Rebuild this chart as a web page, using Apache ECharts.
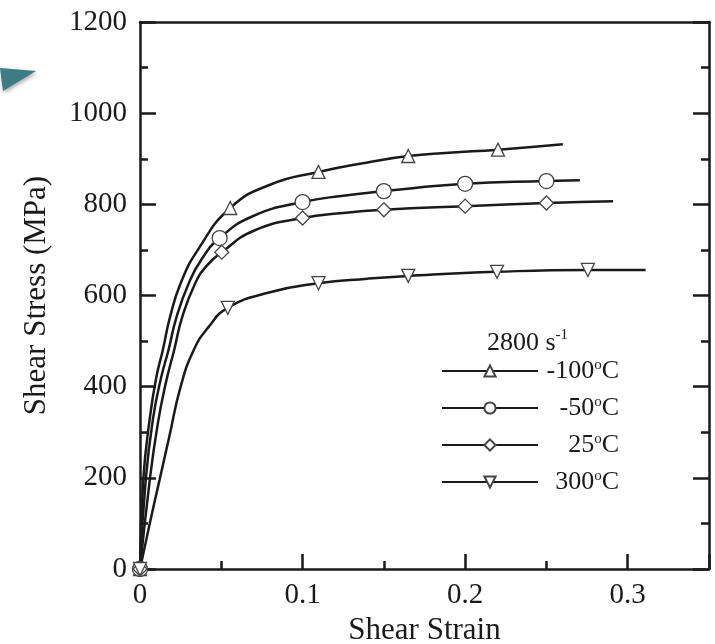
<!DOCTYPE html>
<html><head><meta charset="utf-8">
<script src="https://cdn.jsdelivr.net/npm/echarts@6/dist/echarts.min.js"></script>
<style>html,body{margin:0;padding:0;background:#fff}#c{width:715px;height:644px}</style>
</head><body><div id="c"></div>
<script>
// ---- data ----
const seriesNames = ['-100', '-50', '25', '300'];
const strainM100 = [0, 0.002, 0.006, 0.01, 0.014, 0.0185, 0.025, 0.0356, 0.0555, 0.08, 0.1098, 0.14, 0.165, 0.19, 0.2202, 0.2601];
const stressM100 = [0, 195, 330, 420, 480, 553, 627, 700, 792, 843, 871, 892, 906, 913, 920, 932];
const markM100 = [0, 0.0555, 0.1098, 0.165, 0.2202];

const strainM50 = [0, 0.0035, 0.008, 0.013, 0.0175, 0.0225, 0.030, 0.038, 0.049, 0.07, 0.1, 0.125, 0.15, 0.2, 0.25, 0.2706];
const stressM50 = [0, 195, 330, 420, 480, 553, 627, 680, 726, 775, 805, 819, 829, 845, 851, 853];
const markM50 = [0, 0.049, 0.1, 0.15, 0.2, 0.25];

const strainP25 = [0, 0.006, 0.011, 0.016, 0.021, 0.026, 0.034, 0.041, 0.0503, 0.07, 0.1, 0.125, 0.15, 0.2, 0.25, 0.291];
const stressP25 = [0, 195, 320, 410, 480, 553, 627, 665, 695, 742, 770, 781, 788, 796, 803, 807];
const markP25 = [0, 0.0503, 0.1, 0.15, 0.2, 0.25];

const strainP300 = [0, 0.006, 0.012, 0.018, 0.025, 0.033, 0.042, 0.054, 0.08, 0.1098, 0.14, 0.165, 0.2196, 0.2755, 0.311];
const stressP300 = [0, 100, 195, 290, 400, 480, 530, 573, 607, 627, 637, 643, 652, 656, 656];
const markP300 = [0, 0.054, 0.1098, 0.165, 0.2196, 0.2755];

const yTicks = [0, 200, 400, 600, 800, 1000, 1200];
const xTicks = [0, 0.1, 0.2, 0.3];

// ---- build ----
const FONT = '"Liberation Serif", "Times New Roman", serif';
const INK = '#1a1a1a';
function build(xs, ys, marks) {
  return xs.map((x, i) => {
    const d = { value: [x, ys[i]] };
    if (marks.indexOf(x) < 0) d.symbol = 'none';
    return d;
  });
}
const defs = [
  { name: seriesNames[0], xs: strainM100, ys: stressM100, mk: markM100, sym: 'triangle', rot: 0, size: 13 },
  { name: seriesNames[1], xs: strainM50, ys: stressM50, mk: markM50, sym: 'circle', rot: 0, size: 15 },
  { name: seriesNames[2], xs: strainP25, ys: stressP25, mk: markP25, sym: 'diamond', rot: 0, size: 14 },
  { name: seriesNames[3], xs: strainP300, ys: stressP300, mk: markP300, sym: 'triangle', rot: 180, size: 13 }
];
const series = defs.map(d => ({
  type: 'line', name: d.name, data: build(d.xs, d.ys, d.mk),
  smooth: 0.5,
  symbol: d.sym, symbolRotate: d.rot, symbolSize: d.size, showAllSymbol: true,
  lineStyle: { color: INK, width: 2.5 },
  itemStyle: { color: '#fff', borderColor: '#444', borderWidth: 1.3 },
  emphasis: { disabled: true }, animation: false, z: 3
}));

const chart = echarts.init(document.getElementById('c'), null, { renderer: 'canvas' });
const axisLine = { show: true, onZero: false, lineStyle: { color: INK, width: 2.5 } };
chart.setOption({
  backgroundColor: '#fff',
  animation: false,
  grid: { left: 140, right: 6, top: 22, bottom: 75, containLabel: false, outerBoundsMode: 'none' },
  title: {
    text: '{a|2800 s}{b|-1}', left: 482, top: 323,
    textStyle: { fontWeight: 'normal', rich: {
      a: { fontFamily: FONT, fontSize: 26, fontWeight: 'normal', color: INK, lineHeight: 28, verticalAlign: 'bottom' },
      b: { fontFamily: FONT, fontSize: 15, fontWeight: 'normal', color: INK, lineHeight: 28, verticalAlign: 'top' }
    } }
  },
  legend: {
    orient: 'vertical', left: 436, top: 353, itemWidth: 96, itemHeight: 14, itemGap: 11,
    data: seriesNames, selectedMode: false,
    formatter: n => '{t|' + n + '}{s|o}{t|C}',
    textStyle: { width: 76, rich: {
      t: { fontFamily: FONT, fontSize: 26, color: INK, lineHeight: 26, align: 'right', verticalAlign: 'bottom' },
      s: { fontFamily: FONT, fontSize: 15, color: INK, lineHeight: 26, align: 'right', verticalAlign: 'top' }
    } }
  },
  xAxis: [{
    type: 'value', min: 0, max: 0.35, interval: 0.1,
    name: 'Shear Strain', nameLocation: 'middle', nameGap: 44,
    nameTextStyle: { fontFamily: FONT, fontSize: 31, color: INK },
    axisLine: axisLine,
    axisTick: { show: true, inside: true, length: 15, lineStyle: { color: INK, width: 2.5 } },
    minorTick: { show: true, splitNumber: 2, length: 8, lineStyle: { color: INK, width: 2.5 } },
    splitLine: { show: false },
    axisLabel: { fontFamily: FONT, fontSize: 29, color: INK, margin: 12, showMaxLabel: false,
      formatter: v => (xTicks.indexOf(+v.toFixed(2)) >= 0 ? String(+v.toFixed(2)) : '') }
  }, {
    type: 'value', position: 'top', min: 0, max: 0.35, interval: 0.1,
    axisLine: axisLine, axisTick: { show: false }, axisLabel: { show: false }, splitLine: { show: false }
  }],
  yAxis: [{
    type: 'value', min: 0, max: 1200, interval: 200,
    name: 'Shear Stress (MPa)', nameLocation: 'middle', nameGap: 88, nameRotate: 90,
    nameTextStyle: { fontFamily: FONT, fontSize: 31, color: INK },
    axisLine: axisLine,
    axisTick: { show: true, inside: true, length: 16, lineStyle: { color: INK, width: 2.5 } },
    minorTick: { show: true, splitNumber: 2, length: 8, lineStyle: { color: INK, width: 2.5 } },
    splitLine: { show: false },
    axisLabel: { fontFamily: FONT, fontSize: 29, color: INK, margin: 13,
      formatter: v => (yTicks.indexOf(v) >= 0 ? String(v) : '') }
  }, {
    type: 'value', position: 'right', min: 0, max: 1200, interval: 200,
    axisLine: axisLine,
    axisTick: { show: true, inside: true, length: 16, lineStyle: { color: INK, width: 2.5 } },
    minorTick: { show: true, splitNumber: 2, length: 8, lineStyle: { color: INK, width: 2.5 } },
    splitLine: { show: false }, axisLabel: { show: false }
  }],
  graphic: [{
    type: 'polygon', shape: { points: [[0, 68], [36, 71], [3, 91]] },
    style: { fill: '#3b7c85', shadowBlur: 4, shadowColor: 'rgba(0,0,0,0.35)', shadowOffsetX: 1, shadowOffsetY: 2 }
  }],
  series: series
});
</script></body></html>
